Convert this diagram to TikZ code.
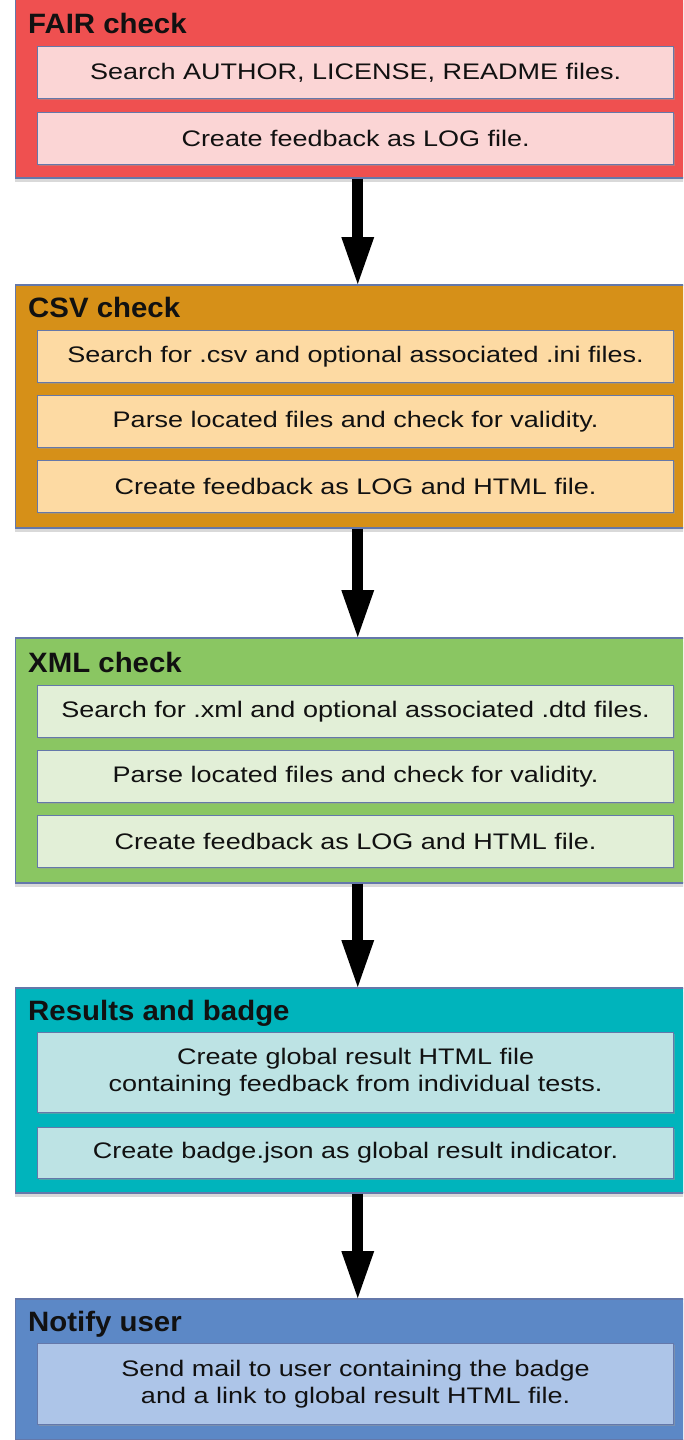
\documentclass[tikz,border=0pt]{standalone}
\usepackage{fontspec}
\setmainfont{Liberation Sans}
\newfontfamily\bodyfont{Liberation Sans}[FakeStretch=1.2]
\newfontfamily\headfont{Liberation Sans}[FakeStretch=1.05]
\usetikzlibrary{arrows.meta,shadows}

\definecolor{fairout}{RGB}{239,80,80}
\definecolor{fairin}{RGB}{251,213,213}
\definecolor{csvout}{RGB}{214,144,24}
\definecolor{csvin}{RGB}{253,218,163}
\definecolor{xmlout}{RGB}{138,198,98}
\definecolor{xmlin}{RGB}{226,239,215}
\definecolor{resout}{RGB}{0,180,188}
\definecolor{resin}{RGB}{189,227,228}
\definecolor{notout}{RGB}{92,136,198}
\definecolor{notin}{RGB}{173,197,232}
\definecolor{edge}{RGB}{100,120,170}
\definecolor{ink}{RGB}{17,17,17}

\tikzset{
  stage/.style={draw=edge, line width=1.5pt, rectangle, anchor=north west,
    inner sep=0pt, minimum width=685pt,
    drop shadow={shadow xshift=0pt, shadow yshift=-4pt, fill=black!25, opacity=0.6}},
  task/.style={draw=edge, line width=1.2pt, rectangle, anchor=north west,
    inner sep=0pt, minimum width=636pt, align=center, text=ink,
    font=\bodyfont\fontsize{22.5}{27}\selectfont,
    drop shadow={shadow xshift=1.5pt, shadow yshift=-1.5pt, fill=black!40, opacity=0.5}},
  stagetitle/.style={anchor=base west, inner sep=0pt, text=ink,
    font=\headfont\bfseries\fontsize{28}{32}\selectfont},
  flow/.style={line width=11pt, draw=black,
    -{Triangle[width=33pt, length=47pt, line width=0pt]}}
}

\begin{document}
\begin{tikzpicture}[x=1pt, y=-1pt]
\useasboundingbox (0,0) rectangle (683,1440);
\clip (0,0) rectangle (683,1440);

% FAIR check
\node[stage, fill=fairout, minimum height=179pt] (fair) at (14.5,-2) {};
\node[stagetitle] (fairtitle) at (28,33) {FAIR check};
\node[task, fill=fairin, minimum height=52pt] (fair1) at (37,46) {Search AUTHOR, LICENSE, README files.};
\node[task, fill=fairin, minimum height=52pt] (fair2) at (37,112) {Create feedback as LOG file.};

% CSV check
\node[stage, fill=csvout, minimum height=243pt] (csv) at (14.5,284) {};
\node[stagetitle] (csvtitle) at (28,317) {CSV check};
\node[task, fill=csvin, minimum height=52pt] (csv1) at (37,330) {Search for .csv and optional associated .ini files.};
\node[task, fill=csvin, minimum height=52pt] (csv2) at (37,395) {Parse located files and check for validity.};
\node[task, fill=csvin, minimum height=52pt] (csv3) at (37,460) {Create feedback as LOG and HTML file.};

% XML check
\node[stage, fill=xmlout, minimum height=245pt] (xml) at (14.5,637) {};
\node[stagetitle] (xmltitle) at (28,672) {XML check};
\node[task, fill=xmlin, minimum height=52pt] (xml1) at (37,685) {Search for .xml and optional associated .dtd files.};
\node[task, fill=xmlin, minimum height=52pt] (xml2) at (37,750) {Parse located files and check for validity.};
\node[task, fill=xmlin, minimum height=52pt] (xml3) at (37,815) {Create feedback as LOG and HTML file.};

% Results and badge
\node[stage, fill=resout, minimum height=205pt] (res) at (14.5,987) {};
\node[stagetitle] (restitle) at (28,1020) {Results and badge};
\node[task, fill=resin, minimum height=80pt] (res1) at (37,1032) {Create global result HTML file\\containing feedback from individual tests.};
\node[task, fill=resin, minimum height=51pt] (res2) at (37,1127) {Create badge.json as global result indicator.};

% Notify user
\node[stage, fill=notout, minimum height=141pt] (notify) at (14.5,1298) {};
\node[stagetitle] (notifytitle) at (28,1331) {Notify user};
\node[task, fill=notin, minimum height=81pt] (notify1) at (37,1343) {Send mail to user containing the badge\\and a link to global result HTML file.};

% Flow between stages
\draw[flow] (fair.south) -- (csv.north);
\draw[flow] (csv.south) -- (xml.north);
\draw[flow] (xml.south) -- (res.north);
\draw[flow] (res.south) -- (notify.north);
\end{tikzpicture}
\end{document}
